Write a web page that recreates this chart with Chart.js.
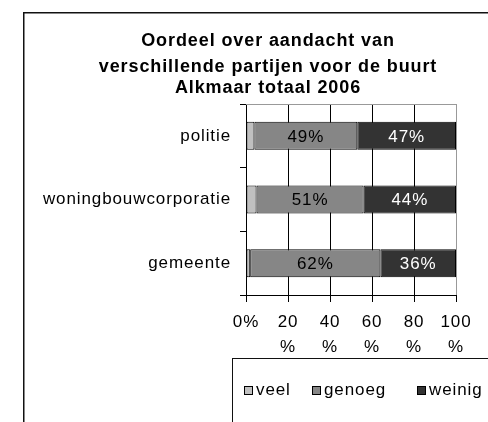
<!DOCTYPE html>
<html>
<head>
<meta charset="utf-8">
<script src="https://cdn.jsdelivr.net/npm/chart.js@4"></script>
<style>
  html, body { margin: 0; padding: 0; background: #fff; }
  canvas { display: block; }
</style>
</head>
<body>
<canvas id="chart" width="488" height="422"></canvas>
<script>
const titleLines = ["Oordeel over aandacht van", "verschillende partijen voor de buurt", "Alkmaar totaal 2006"];
const categories = ["politie", "woningbouwcorporatie", "gemeente"];
const seriesNames = ["veel", "genoeg", "weinig"];
const veel = [4, 5, 2];
const genoeg = [49, 51, 62];
const weinig = [47, 44, 36];
const xTicks = [0, 20, 40, 60, 80, 100];

const colors = ["#c0c0c0", "#868686", "#333333"];
const labelColors = [null, "#000", "#fff"];
const fontFamily = '"Liberation Sans", Arial, sans-serif';

Chart.defaults.color = "#000";
Chart.defaults.font.family = fontFamily;

const decorations = {
  id: "decorations",
  beforeDraw(chart) {
    const ctx = chart.ctx;
    ctx.letterSpacing = "0.9px";
    ctx.save();
    // outer chart frame, cut off by the page edge
    ctx.strokeStyle = "#111";
    ctx.lineWidth = 1.5;
    ctx.strokeRect(23.75, 12.75, 700, 700);
    // title
    ctx.fillStyle = "#000";
    ctx.font = "bold 18px " + fontFamily;
    ctx.textAlign = "center";
    ctx.textBaseline = "alphabetic";
    const baselines = [46, 72, 93];
    titleLines.forEach((line, i) => ctx.fillText(line, 268, baselines[i]));
    ctx.restore();
  },
  afterDatasetsDraw(chart) {
    const ctx = chart.ctx;
    ctx.save();
    ctx.font = "17px " + fontFamily;
    ctx.textAlign = "center";
    ctx.textBaseline = "middle";
    chart.data.datasets.forEach((ds, di) => {
      if (!labelColors[di]) return;
      const meta = chart.getDatasetMeta(di);
      meta.data.forEach((bar, i) => {
        const p = bar.getProps(["x", "base", "y"], true);
        ctx.fillStyle = labelColors[di];
        ctx.fillText(ds.data[i] + "%", (p.x + p.base) / 2, p.y + 1);
      });
    });
    ctx.restore();
  },
  afterDraw(chart) {
    const ctx = chart.ctx;
    const a = chart.chartArea;
    ctx.save();
    // plot area top edge
    ctx.strokeStyle = "#999";
    ctx.lineWidth = 1;
    ctx.beginPath();
    ctx.moveTo(a.left, a.top + 0.5);
    ctx.lineTo(a.right + 0.5, a.top + 0.5);
    ctx.stroke();
    // legend box
    ctx.strokeStyle = "#111";
    ctx.lineWidth = 1;
    ctx.strokeRect(232.5, 358.5, 400, 200);
    ctx.font = "17px " + fontFamily;
    ctx.textBaseline = "alphabetic";
    ctx.textAlign = "left";
    const itemX = [244, 312, 417];
    chart.data.datasets.forEach((ds, i) => {
      ctx.fillStyle = ds.backgroundColor;
      ctx.fillRect(itemX[i], 386, 8, 8);
      ctx.strokeStyle = "#000";
      ctx.strokeRect(itemX[i] + 0.5, 386.5, 8, 8);
      ctx.fillStyle = "#000";
      ctx.fillText(ds.label, itemX[i] + 12, 395);
    });
    ctx.restore();
  }
};

new Chart(document.querySelector("#chart"), {
  type: "bar",
  data: {
    labels: categories,
    datasets: [veel, genoeg, weinig].map((values, i) => ({
      label: seriesNames[i],
      data: values,
      backgroundColor: colors[i],
      borderColor: "#000",
      borderWidth: 1,
      borderSkipped: false,
      barPercentage: 0.44,
      categoryPercentage: 1,
    })),
  },
  options: {
    indexAxis: "y",
    responsive: false,
    animation: false,
    devicePixelRatio: 1,
    layout: { padding: { top: 104, right: 32, left: 0, bottom: 0 } },
    plugins: {
      legend: { display: false },
      title: { display: false },
      tooltip: { enabled: false },
    },
    scales: {
      x: {
        stacked: true,
        min: 0,
        max: 100,
        afterBuildTicks: (scale) => { scale.ticks = xTicks.map((v) => ({ value: v })); },
        afterFit: (scale) => { scale.height = 127; },
        ticks: {
          autoSkip: false,
          maxRotation: 0,
          padding: 8,
          font: { size: 17, lineHeight: 1.47 },
          callback: (v) => (v === 0 ? "0%" : [String(v), "%"]),
        },
        grid: {
          color: (c) => (c.tick && c.tick.value === 100 ? "#999" : "#000"),
          tickColor: "#000",
          tickLength: 7,
          lineWidth: 1,
        },
        border: { color: "#000", width: 1 },
      },
      y: {
        stacked: true,
        afterFit: (scale) => { scale.width = 246; },
        ticks: { padding: 9, font: { size: 17 } },
        grid: { drawOnChartArea: false, tickLength: 6, color: "#000" },
        border: { color: "#000", width: 1 },
      },
    },
  },
  plugins: [decorations],
});
</script>
</body>
</html>
